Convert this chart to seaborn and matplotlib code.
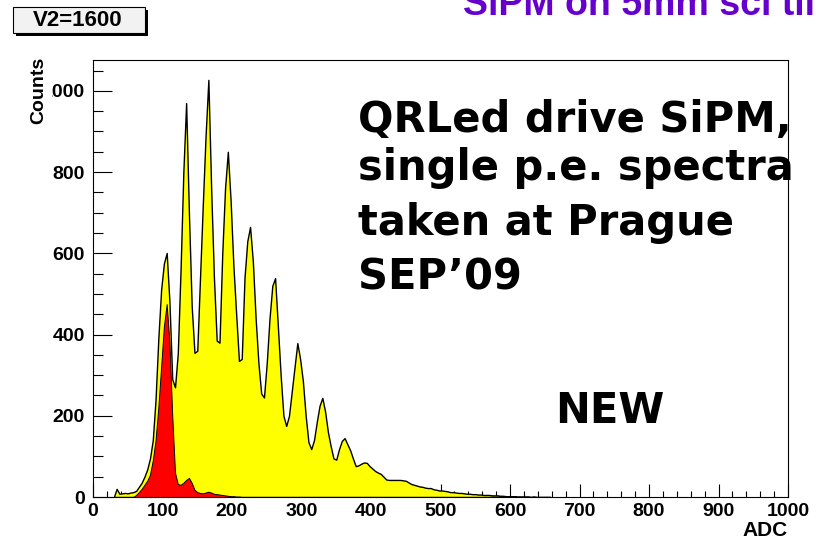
import numpy as np
import matplotlib
matplotlib.use('Agg')
import matplotlib.pyplot as plt
import seaborn as sns
from matplotlib.patches import Rectangle
from matplotlib.ticker import MultipleLocator

# ADC spectrum, 4-count wide bins from 28 to 660
adc_start, adc_stop, adc_width = 28, 660, 4
adc_centers = np.arange(adc_start, adc_stop, adc_width) + adc_width / 2

# total spectrum (yellow)
total_counts = [
    0, 20, 8, 9, 10, 9, 11, 12, 15, 25,
    35, 50, 68, 95, 140, 240, 390, 510, 575, 601,
    480, 290, 270, 354, 560, 800, 970, 700, 470, 355,
    360, 540, 720, 890, 1027, 760, 540, 385, 380, 600,
    760, 850, 730, 570, 450, 335, 340, 540, 630, 665,
    580, 440, 330, 255, 245, 330, 440, 520, 539, 420,
    300, 200, 175, 200, 260, 320, 379, 340, 285, 200,
    135, 118, 140, 185, 225, 244, 210, 160, 125, 95,
    92, 118, 138, 145, 130, 115, 95, 76, 78, 82,
    85, 84, 76, 70, 64, 60, 57, 50, 43, 42,
    42, 42, 42, 42, 41, 40, 36, 32, 30, 28,
    26, 25, 23, 22, 22, 19, 18, 16, 16, 15,
    14, 12, 12, 11, 10, 10, 9, 8, 8, 7,
    7, 6, 6, 5, 5, 5, 4, 4, 4, 3,
    3, 2, 2, 2, 2, 1, 1, 1, 1, 1,
    0, 1, 0, 0, 0, 0, 0, 0,
]

# pedestal-only spectrum (red)
pedestal_counts = [
    0, 0, 0, 0, 0, 0, 0, 0, 5, 12,
    20, 30, 40, 55, 90, 140, 220, 320, 420, 475,
    380, 200, 60, 32, 30, 35, 42, 47, 35, 18,
    12, 10, 9, 11, 13, 11, 8, 7, 6, 5,
    4, 3, 2, 2, 1, 1,
]
pedestal_counts = pedestal_counts + [0] * (len(adc_centers) - len(pedestal_counts))

x_ticks = [0, 100, 200, 300, 400, 500, 600, 700, 800, 900, 1000]
y_ticks = [0, 200, 400, 600, 800, 1000]

note_lines = ['QRLed drive SiPM,', 'single p.e. spectra', 'taken at Prague', 'SEP\u201909']

sns.set_style('ticks')
plt.rcParams['font.family'] = ['Liberation Sans', 'DejaVu Sans']
plt.rcParams['text.color'] = 'black'
plt.rcParams['xtick.color'] = 'black'
plt.rcParams['ytick.color'] = 'black'
plt.rcParams['axes.labelcolor'] = 'black'

W, H = 816, 541
fig = plt.figure(figsize=(W / 100, H / 100), dpi=100)
ax = fig.add_axes([93 / W, 1 - 497 / H, (788 - 93) / W, (497 - 60) / H])

sns.histplot(x=adc_centers, weights=total_counts, binwidth=adc_width,
             binrange=(adc_start, adc_stop), element='poly', fill=True,
             color='#ffff00', edgecolor='black', linewidth=1.0, alpha=1, ax=ax)
sns.histplot(x=adc_centers, weights=pedestal_counts, binwidth=adc_width,
             binrange=(adc_start, adc_stop), element='poly', fill=True,
             color='#ff0000', edgecolor='black', linewidth=0.7, alpha=1, ax=ax)

ax.set_xlim(0, 1000)
ax.set_ylim(0, 1076)
ax.set_xticks(x_ticks)
ax.set_yticks(y_ticks)
ax.xaxis.set_minor_locator(MultipleLocator(20))
ax.yaxis.set_minor_locator(MultipleLocator(50))
ax.tick_params(axis='x', which='major', direction='in', length=9.5, width=0.8, pad=4,
               labelsize=14)
ax.tick_params(axis='x', which='minor', direction='in', length=4.5, width=0.8)
ax.tick_params(axis='y', which='major', direction='in', length=14, width=0.8, pad=6,
               labelsize=14)
ax.tick_params(axis='y', which='minor', direction='in', length=7, width=0.8)
for lab in ax.get_xticklabels() + ax.get_yticklabels():
    lab.set_fontweight('bold')
for sp in ax.spines.values():
    sp.set_visible(True)
    sp.set_linewidth(0.8)
    sp.set_color('black')
ax.set_xlabel('')
ax.set_ylabel('')

fig.text(788 / W, 1 - 530 / H, 'ADC', ha='right', va='center', fontsize=15,
         fontweight='bold')
fig.text(39 / W, 1 - 57 / H, 'Counts', rotation=90, ha='center', va='top',
         fontsize=14, fontweight='bold', zorder=5,
         bbox=dict(facecolor='white', edgecolor='none', pad=3))

# annotation block
baselines = [132, 180, 235, 290]
for line, yb in zip(note_lines, baselines):
    fig.text(358 / W, 1 - yb / H, line, ha='left', va='baseline', fontsize=30,
             fontweight='bold', family='DejaVu Sans')
fig.text(555 / W, 1 - 423 / H, 'NEW', ha='left', va='baseline', fontsize=30,
         fontweight='bold', family='DejaVu Sans')

# slide title, cut at the top
fig.text(463 / W, 1 - 15 / H, 'SiPM on 5mm sci tile', ha='left', va='baseline',
         fontsize=27, fontweight='bold', color='#6600cc')

# ROOT-style label box
fig.patches.append(Rectangle((16 / W, 1 - 36 / H), 132 / W, 26 / H,
                             transform=fig.transFigure, facecolor='black',
                             edgecolor='none'))
fig.patches.append(Rectangle((13 / W, 1 - 33 / H), 132 / W, 26 / H,
                             transform=fig.transFigure, facecolor='#f2f2f2',
                             edgecolor='black', linewidth=0.8))
fig.text(78 / W, 1 - 21 / H, 'V2=1600', ha='center', va='center', fontsize=16,
         fontweight='bold')

fig.savefig('out.png', dpi=100)
